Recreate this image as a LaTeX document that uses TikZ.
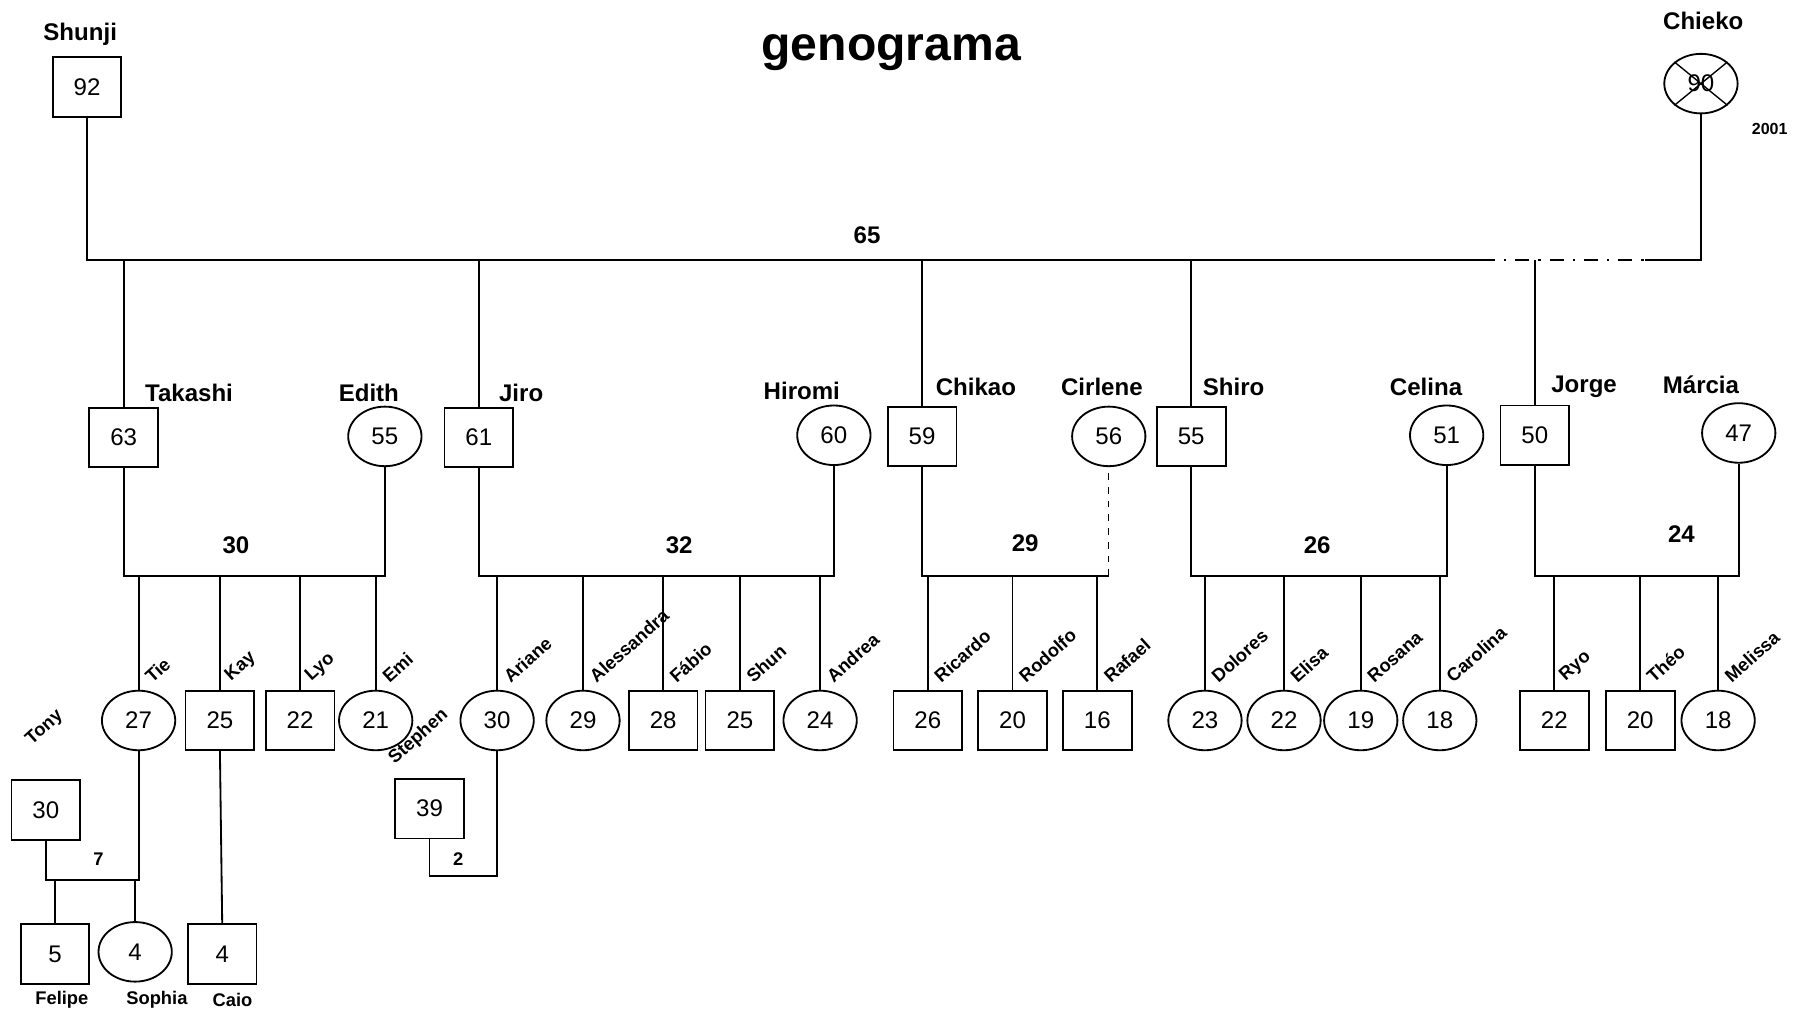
\documentclass[tikz,border=0pt]{standalone}
\usepackage{fontspec}
\setmainfont{Liberation Sans}
\usetikzlibrary{positioning,calc,shapes.geometric}

\begin{document}
\begin{tikzpicture}[x=0.5pt,y=-0.5pt,line width=0.8pt,
    male/.style={draw,rectangle,minimum width=30pt,minimum height=26pt,inner sep=0pt,font=\fontsize{10.5}{11}\selectfont},
    female/.style={draw,ellipse,minimum width=32pt,minimum height=26pt,inner sep=0pt,font=\fontsize{10.5}{11}\selectfont},
    pname/.style={font=\bfseries\fontsize{10.5}{11}\selectfont,inner sep=0pt},
    kid/.style={font=\bfseries\fontsize{8}{9}\selectfont,inner sep=0pt,rotate=42,anchor=south west},
    small/.style={font=\bfseries\fontsize{8}{9}\selectfont,inner sep=0pt},
    years/.style={font=\bfseries\fontsize{10.5}{11}\selectfont,inner sep=0pt}]
  \useasboundingbox (0,0) rectangle (1568,885);
  \node[font=\bfseries\fontsize{21}{22}\selectfont] (title) at (778,46) {genograma};

  % grandparents
  \node[male] (shunji) at (76,76) {92};
  \node[pname] (shunji-l) at (70,30) {Shunji};
  \node[female] (chieko) at (1485,73) {90};
  \draw[line width=0.6pt] (chieko.north west) -- (chieko.south east) (chieko.north east) -- (chieko.south west);
  \node[pname] (chieko-l) at (1487,18) {Chieko};
  \node[small,font=\bfseries\fontsize{7}{8}\selectfont] (chieko-d) at (1545,113) {2001};
  \coordinate (m0) at (0,227);
  \coordinate (d1) at (1293,227);
  \coordinate (d2) at (1436,227);
  \draw (shunji.south) |- (d1);
  \draw[dash pattern=on 6pt off 4pt on 1pt off 4pt] (d1) -- (d2);
  \draw (d2) -| (chieko.south);
  \node[years] (y0) at (757,205) {65};

  % children and spouses
  \node[male] (takashi) at (108,382) {63};
  \node[female] (edith) at (336,381) {55};
  \node[male] (jiro) at (418,382) {61};
  \node[female] (hiromi) at (728,380) {60};
  \node[male] (chikao) at (805,381) {59};
  \node[female] (cirlene) at (968,381) {56};
  \node[male] (shiro) at (1040,381) {55};
  \node[female] (celina) at (1263,380) {51};
  \node[male] (jorge) at (1340,380) {50};
  \node[female] (marcia) at (1518,378) {47};
  \node[pname] (takashi-l) at (165,343) {Takashi};
  \node[pname] (edith-l) at (322,343) {Edith};
  \node[pname] (jiro-l) at (455,343) {Jiro};
  \node[pname] (hiromi-l) at (700,341) {Hiromi};
  \node[pname] (chikao-l) at (852,338) {Chikao};
  \node[pname] (cirlene-l) at (962,338) {Cirlene};
  \node[pname] (shiro-l) at (1077,338) {Shiro};
  \node[pname] (celina-l) at (1245,338) {Celina};
  \node[pname] (jorge-l) at (1383,338) {Jorge};
  \node[pname] (marcia-l) at (1485,336) {Márcia};
  \foreach \p in {takashi,jiro,chikao,shiro,jorge}
    \draw (\p.north |- m0) -- (\p.north);

  % marriages
  \coordinate (m1) at (0,503);
  \draw (takashi.south) |- (m1 -| edith.south) -- (edith.south);
  \draw (jiro.south) |- (m1 -| hiromi.south) -- (hiromi.south);
  \draw (chikao.south) |- (m1 -| cirlene.south);
  \draw[dashed,line width=0.6pt] (m1 -| cirlene.south) -- (cirlene.south);
  \draw (shiro.south) |- (m1 -| celina.south) -- (celina.south);
  \draw (jorge.south) |- (m1 -| marcia.south) -- (marcia.south);
  \node[years] (y1) at (206,476) {30};
  \node[years] (y2) at (593,476) {32};
  \node[years] (y3) at (895,474) {29};
  \node[years] (y4) at (1150,476) {26};
  \node[years] (y5) at (1468,466) {24};

  % grandchildren
  \node[female] (tie) at (121,629) {27};
  \node[male] (kay) at (192,629) {25};
  \node[male] (lyo) at (262,629) {22};
  \node[female] (emi) at (328,629) {21};
  \node[female] (ariane) at (434,629) {30};
  \node[female] (alessandra) at (509,629) {29};
  \node[male] (fabio) at (579,629) {28};
  \node[male] (shun) at (646,629) {25};
  \node[female] (andrea) at (716,629) {24};
  \node[male] (ricardo) at (810,629) {26};
  \node[male] (rodolfo) at (884,629) {20};
  \node[male] (rafael) at (958,629) {16};
  \node[female] (dolores) at (1052,629) {23};
  \node[female] (elisa) at (1121,629) {22};
  \node[female] (rosana) at (1188,629) {19};
  \node[female] (carolina) at (1257,629) {18};
  \node[male] (ryo) at (1357,629) {22};
  \node[male] (theo) at (1432,629) {20};
  \node[female] (melissa) at (1500,629) {18};
  \foreach \p/\t in {tie/Tie,kay/Kay,lyo/Lyo,emi/Emi,ariane/Ariane,alessandra/Alessandra,
      fabio/Fábio,shun/Shun,andrea/Andrea,ricardo/Ricardo,rodolfo/Rodolfo,rafael/Rafael,
      dolores/Dolores,elisa/Elisa,rosana/Rosana,carolina/Carolina,ryo/Ryo,theo/Théo,melissa/Melissa}{
    \draw (\p.north) -- (\p.north |- m1);
    \node[kid] (\p-l) at ($(\p.north)+(12,-4)$) {\t};
  }

  % great-grandchildren
  \node[male] (tony) at (40,707) {30};
  \node[kid] (tony-l) at ($(tony.north)+(-10,-26)$) {Tony};
  \node[male] (stephen) at (375,706) {39};
  \node[kid] (stephen-l) at ($(stephen.north)+(-28,-8)$) {Stephen};
  \coordinate (m2) at (0,768);
  \coordinate (m3) at (0,765);
  \draw (tony.south) |- (m2 -| tie.south) -- (tie.south);
  \draw (stephen.south) |- (m3 -| ariane.south) -- (ariane.south);
  \node[small] (y6) at (86,750) {7};
  \node[small] (y7) at (400,750) {2};
  \node[male] (felipe) at (48,833) {5};
  \node[female] (sophia) at (118,831) {4};
  \node[male] (caio) at (194,833) {4};
  \draw (felipe.north) -- (felipe.north |- m2);
  \draw (sophia.north) -- (sophia.north |- m2);
  \draw (kay.south) -- (caio.north);
  \node[small] (felipe-l) at (54,873) {Felipe};
  \node[small] (sophia-l) at (137,873) {Sophia};
  \node[small] (caio-l) at (203,873) {Caio};
\end{tikzpicture}
\end{document}
